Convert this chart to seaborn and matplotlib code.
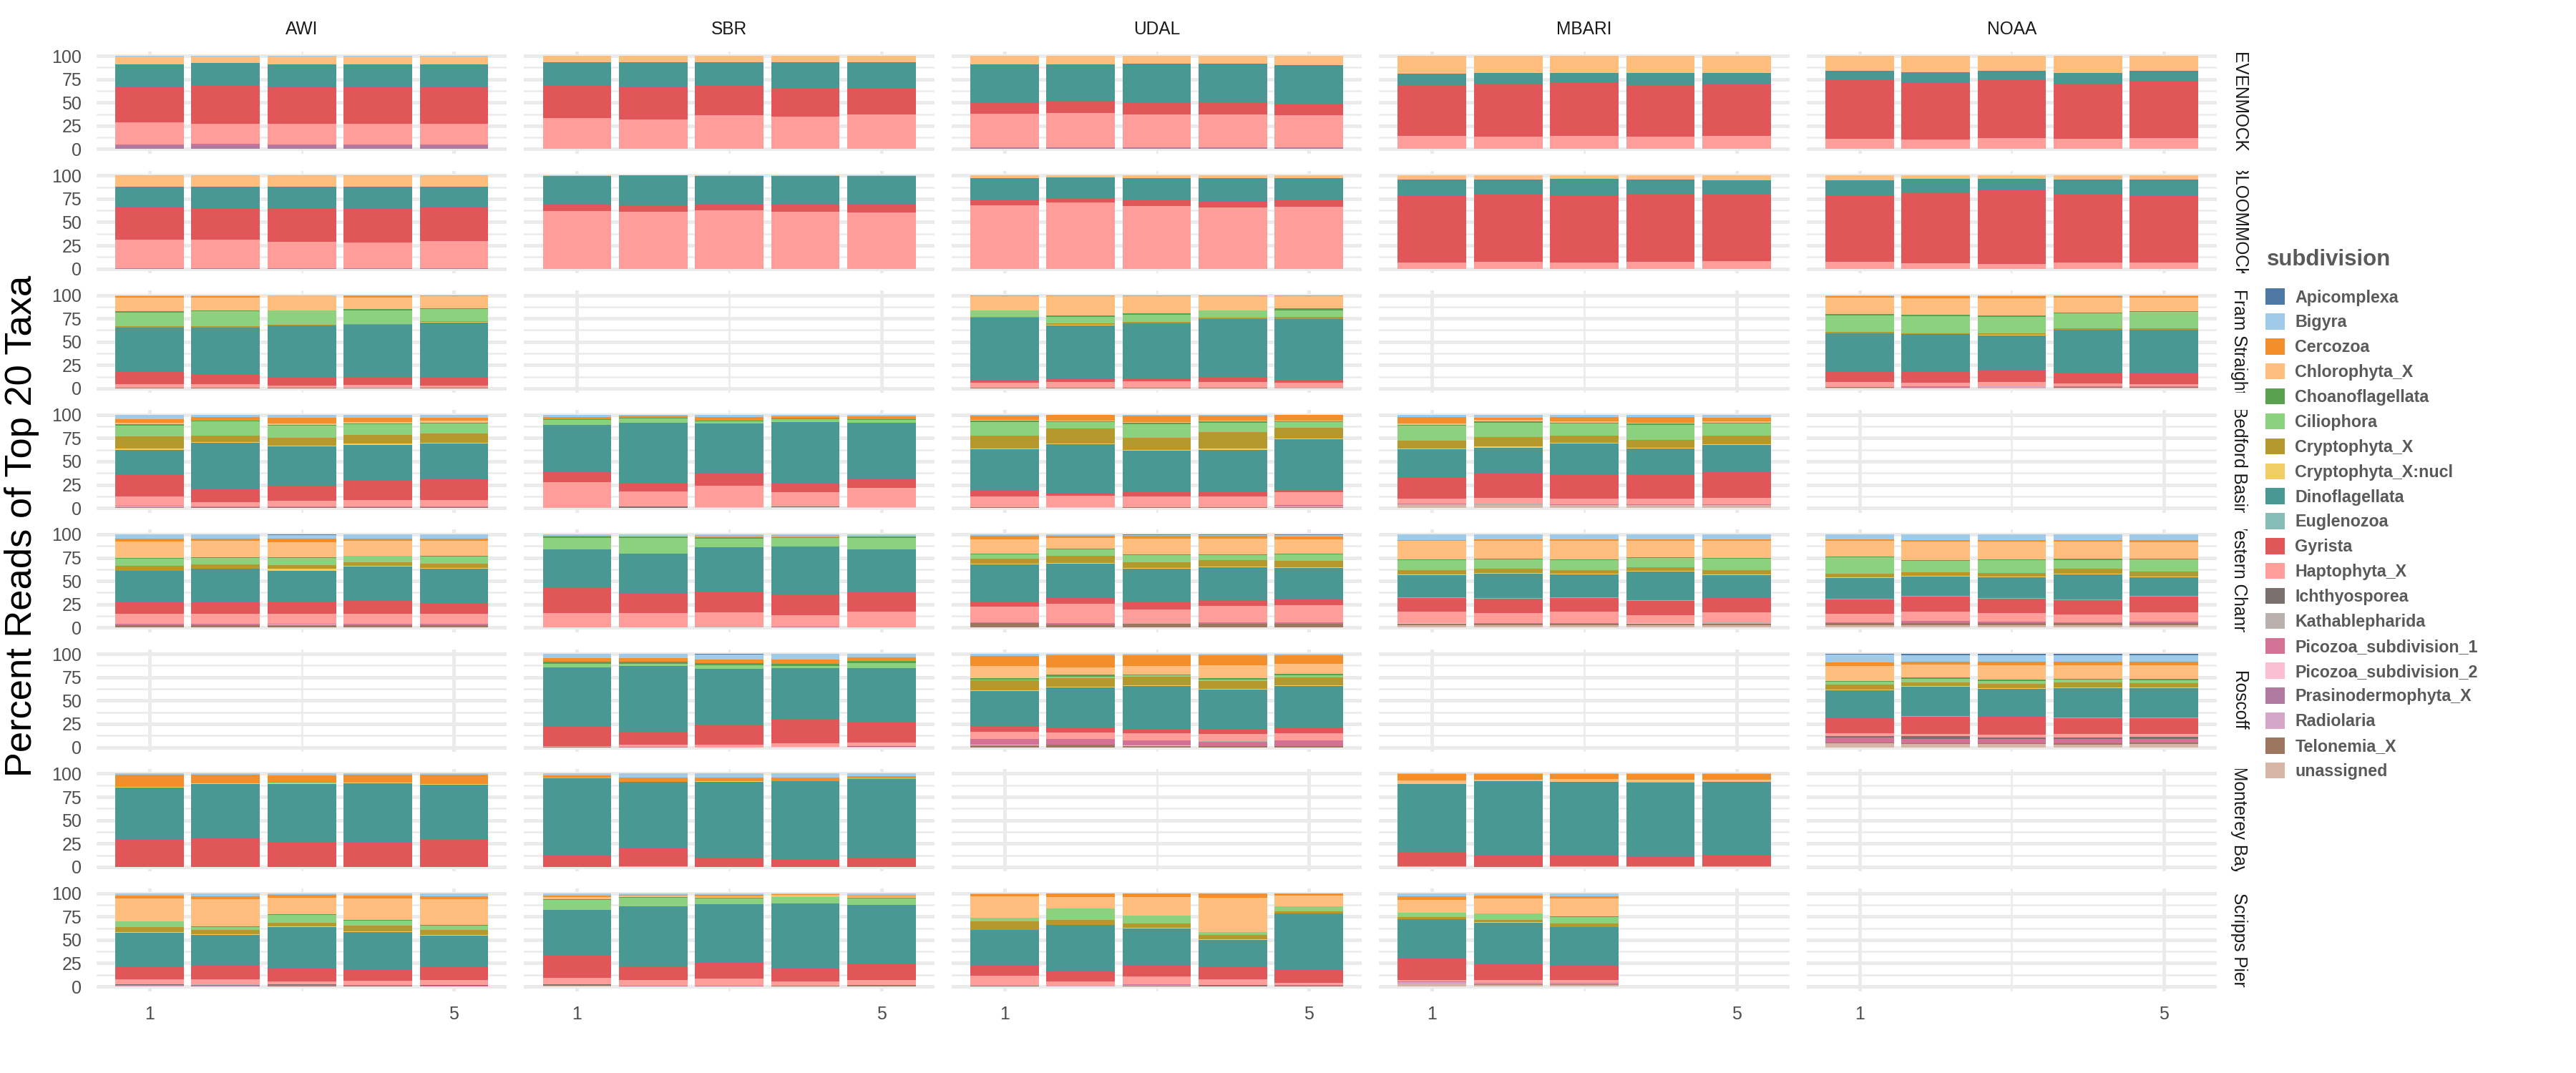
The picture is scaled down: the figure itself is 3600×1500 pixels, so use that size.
import numpy as np
import pandas as pd
import matplotlib.pyplot as plt
import seaborn as sns
from matplotlib.patches import Patch
from matplotlib.transforms import Bbox, TransformedBbox

sns.set_theme(style="white")
plt.rcParams['font.family'] = ['Liberation Sans', 'DejaVu Sans']

# --- taxa (legend order) and palette ---
taxa = ['Apicomplexa', 'Bigyra', 'Cercozoa', 'Chlorophyta_X', 'Choanoflagellata',
        'Ciliophora', 'Cryptophyta_X', 'Cryptophyta_X:nucl', 'Dinoflagellata',
        'Euglenozoa', 'Gyrista', 'Haptophyta_X', 'Ichthyosporea', 'Kathablepharida',
        'Picozoa_subdivision_1', 'Picozoa_subdivision_2', 'Prasinodermophyta_X',
        'Radiolaria', 'Telonemia_X', 'unassigned']
taxa_colors = ['#4E79A7', '#A0CBE8', '#F28E2B', '#FFBE7D', '#59A14F', '#8CD17D',
               '#B6992D', '#F1CE63', '#499894', '#86BCB6', '#E15759', '#FF9D9A',
               '#79706E', '#BAB0AC', '#D37295', '#FABFD2', '#B07AA1', '#D4A6C8',
               '#9D7660', '#D7B5A6']
short = dict(Api='Apicomplexa', Big='Bigyra', Cer='Cercozoa', Chl='Chlorophyta_X',
             Cho='Choanoflagellata', Cil='Ciliophora', Cry='Cryptophyta_X',
             Cnu='Cryptophyta_X:nucl', Din='Dinoflagellata', Eug='Euglenozoa',
             Gyr='Gyrista', Hap='Haptophyta_X', Ich='Ichthyosporea', Kat='Kathablepharida',
             Pi1='Picozoa_subdivision_1', Pi2='Picozoa_subdivision_2',
             Pra='Prasinodermophyta_X', Rad='Radiolaria', Tel='Telonemia_X', Una='unassigned')

sites = ['AWI', 'SBR', 'UDAL', 'MBARI', 'NOAA']
samples = ['EVENMOCK', 'BLOOMMOCK', 'Fram Straight', 'Bedford Basin',
           'Western Channel', 'Roscoff', 'Monterey Bay', 'Scripps Pier']

# --- percent reads per replicate ---
awi_even = dict(Pra=[4, 4.5, 4, 4, 4], Pi1=[1, 1, 1, 1, 1], Hap=[24, 22, 22.5, 22, 22.5],
                Gyr=[37.5, 40, 39, 39, 39], Din=[24.5, 24.5, 24.5, 24.5, 24.5],
                Chl=[8, 7, 8, 8.5, 8], Big=[1, 1, 1, 1, 1])
sbr_even = dict(Hap=[33.5, 32, 36.5, 35, 37.5], Gyr=[34, 34.5, 31, 30.5, 28],
                Din=[26, 27, 26, 28, 28], Chl=[6.5, 6.5, 6.5, 6.5, 6.5])
udal_even = dict(Pra=[1.5, 1.5, 1.5, 1.5, 1.5], Hap=[36.7, 37.5, 35.9, 35.9, 35.1],
                 Gyr=[11.4, 12.4, 12.2, 13, 12], Din=[41.2, 39.4, 42, 41.2, 41.4],
                 Chl=[9.2, 9.2, 8.4, 8.4, 10])
mbari_even = dict(Hap=[14.5, 13.7, 14.5, 13.7, 14.5], Gyr=[54.2, 56.3, 57, 55, 55],
                  Din=[12.2, 11.7, 10.2, 13, 12.2], Chl=[19.1, 18.3, 18.3, 18.3, 18.3])
noaa_even = dict(Hap=[10.9, 10.2, 11.7, 10.9, 11.7], Gyr=[63.1, 60.8, 62.3, 59.1, 61.6],
                 Din=[10, 11.4, 10, 11.7, 10.7], Chl=[16, 17.6, 16, 18.3, 16])

awi_bloom = dict(Pra=[0.5, 0.5, 0.5, 0.5, 0.5], Hap=[30.5, 30.5, 28.5, 27.5, 29],
                 Gyr=[34.5, 34, 36, 36.5, 36], Din=[22.2, 23, 23, 23.8, 22.2],
                 Chl=[11.8, 11.8, 11.8, 11.8, 11.8], Big=[0.5, 0.5, 0.5, 0.5, 0.5])
sbr_bloom = dict(Hap=[61.7, 61, 62.5, 61, 60.2], Gyr=[7.4, 6.9, 6.6, 7.6, 8.9],
                 Din=[30.1, 32.1, 30.1, 30.6, 30.1], Chl=[0.8, 0, 0.8, 0.8, 0.8])
udal_bloom = dict(Hap=[67.9, 70.9, 67.1, 65.6, 66.3], Gyr=[5.3, 4.6, 6.1, 6.3, 6.9],
                  Din=[23.7, 22.2, 23.7, 25, 23.7], Chl=[3.1, 2.3, 3.1, 3.1, 3.1])
mbari_bloom = dict(Hap=[6.9, 7.7, 6.9, 7.7, 8.4], Gyr=[71.1, 71.9, 71.7, 72.4, 71.2],
                   Din=[17.4, 15.8, 17.6, 15.3, 15], Cil=[0, 0, 0, 0, 0.5],
                   Chl=[4.6, 4.6, 3.8, 4.6, 4.9])
noaa_bloom = dict(Hap=[7.7, 6.1, 5.4, 6.9, 6.9], Gyr=[70.9, 75.5, 78.8, 72.7, 71.1],
                  Din=[16, 14.6, 12, 15.8, 17.4], Chl=[5.4, 3.8, 3.8, 4.6, 4.6])

awi_fram = dict(Tel=[0.8, 0.8, 0.8, 0.8, 0.8], Pi2=[0, 0, 0, 1, 0], Hap=[3.5, 3.5, 2, 1.8, 2],
                Gyr=[13.3, 11, 8.7, 8.6, 8.7], Din=[47.2, 49.5, 55.6, 55.7, 58.7],
                Cnu=[0, 0, 0, 0, 0.7], Cry=[1.5, 1.5, 0.8, 0.7, 0.8],
                Cil=[14.6, 16.1, 15.3, 15.3, 13], Cho=[1.5, 0.8, 0.7, 0.8, 0.8],
                Chl=[15.3, 14.5, 14.6, 13, 13], Cer=[1.5, 1.5, 0.7, 2.3, 1.5],
                Big=[0.8, 0.8, 0.8, 0, 0])
udal_fram = dict(Tel=[0.5, 0.5, 0.5, 0.5, 0.3], Kat=[0.5, 0, 0, 0, 0.5], Pi1=[0, 0.5, 0.5, 0.5, 0],
                 Hap=[4.9, 5.6, 6.4, 5.6, 5.1], Gyr=[2.5, 3.3, 3.1, 5.4, 3],
                 Din=[67.1, 57.2, 58.9, 62, 65.1], Cnu=[0, 0.8, 0, 0, 0],
                 Cry=[1.5, 1.5, 1.5, 1.5, 2.3], Cil=[6.2, 7.6, 8.4, 7.7, 7.6],
                 Cho=[0.7, 0.8, 0.8, 0.7, 1.6], Chl=[14.8, 21.4, 18.4, 14.6, 13.7],
                 Cer=[0.8, 0.8, 1.5, 1.5, 0.8], Big=[0.5, 0, 0, 0, 0])
noaa_fram = dict(Una=[0.8, 1, 0.5, 1, 0.7], Tel=[0.7, 0, 0, 0.8, 0.5], Rad=[0, 0, 1.5, 0, 0],
                 Pi1=[0, 1, 0, 0.5, 1], Hap=[5.1, 3.9, 4.6, 2.8, 2.1],
                 Gyr=[11, 11.7, 12.5, 11.5, 11.8], Din=[41.1, 41.1, 38, 46.7, 47.2],
                 Cnu=[0, 0, 0.8, 0, 0], Cry=[1.5, 1, 1.5, 1.5, 1.5],
                 Cil=[17.6, 18.1, 17.6, 16.1, 17.6], Cho=[1.5, 1.5, 1.6, 0.7, 0.8],
                 Chl=[17.6, 17.6, 18.3, 16.1, 14.5], Cer=[1.5, 2.3, 2.3, 1.5, 1.5],
                 Big=[1.5, 1.5, 1.5, 1.5, 1.5])

awi_bedford = dict(Tel=[0.5, 0.5, 0.5, 0.5, 0.5], Pi2=[0.8, 0, 0, 0, 0], Pi1=[1, 1, 1, 1, 1],
                   Hap=[9.7, 4.4, 5.9, 7.4, 6.7], Gyr=[23.2, 14, 16.8, 20.2, 22.9],
                   Din=[27.3, 50.3, 42.1, 38.5, 38.3], Cnu=[1.5, 0.7, 0.8, 1.5, 0.8],
                   Cry=[13, 6.9, 8.4, 10, 9.9], Cil=[11.5, 14.8, 13, 11.4, 10.7],
                   Cho=[1.5, 0.8, 0.8, 0.8, 0.8], Chl=[1.6, 0, 1.5, 1.5, 2.3],
                   Cer=[3.8, 4.3, 6.1, 4.6, 3], Big=[4.6, 2.3, 3.1, 3.1, 3.1])
sbr_bedford = dict(Ich=[0, 1.3, 0, 1, 0], Pi2=[0, 0, 0.8, 0.5, 0.8], Rad=[0.3, 0, 0, 0, 0],
                   Hap=[27.7, 16.8, 22.7, 15.8, 21.1], Gyr=[10.8, 9.2, 13.7, 9.2, 8.7],
                   Din=[50.5, 64.3, 53.6, 65.8, 61], Cil=[5.3, 4.6, 2.3, 3.1, 3],
                   Cho=[0.8, 0.7, 0.8, 0.8, 0.8], Cer=[2.3, 2.3, 3.8, 2.3, 3.1],
                   Big=[2.3, 0.8, 2.3, 1.5, 1.5])
udal_bedford = dict(Tel=[0.5, 0, 0.5, 0.5, 0.5], Pi2=[0, 0.5, 0, 0, 1.5],
                    Pi1=[0.7, 0.5, 0.7, 0.7, 1], Hap=[11, 11.8, 10.8, 10.8, 14.3],
                    Gyr=[6.2, 3, 4.6, 5.1, 2.3], Din=[44.9, 52.8, 45.1, 45.4, 54.4],
                    Cnu=[0.7, 0.8, 0.8, 1.5, 0.7], Cry=[13.8, 16.1, 13, 17.6, 11.5],
                    Cil=[14.5, 6.8, 14.5, 10, 6.1], Cho=[1.6, 0.8, 1.6, 1.5, 0.8],
                    Chl=[0.7, 0.8, 0.7, 0.8, 0.8], Cer=[4.6, 6.1, 6.9, 5.3, 6.1],
                    Big=[0.8, 0, 0.8, 0.8, 0])
mbari_bedford = dict(Una=[3.8, 3, 3, 3, 3], Kat=[0, 1.5, 0, 0, 0], Pi1=[0.7, 0, 1, 1, 1],
                     Hap=[5.2, 6, 5.7, 5.7, 6.5], Gyr=[23, 26.7, 25.5, 26, 27.8],
                     Eug=[0.7, 0, 0, 0, 0], Din=[29.9, 27.6, 34.2, 28.3, 29.6],
                     Cnu=[0.7, 1.5, 0.8, 0.8, 0.7], Cry=[8.4, 10, 7.6, 8.4, 9.2],
                     Cil=[16.1, 15.3, 13, 16.1, 13], Cho=[0.8, 1.5, 0.8, 1.5, 0.8],
                     Chl=[1.5, 1.5, 1.5, 0.8, 1.5], Cer=[6.9, 2.3, 4.6, 6.1, 3.8],
                     Big=[2.3, 3.1, 2.3, 2.3, 3.1])

awi_western = dict(Tel=[2.3, 2.3, 2.3, 2.3, 2.3], Pi2=[0, 0, 0.8, 0, 0],
                   Pi1=[1.5, 1.5, 0.7, 1.5, 1.5], Hap=[10.7, 10.7, 10.7, 10.7, 10.7],
                   Gyr=[12.3, 12.3, 13.1, 13.8, 11.5], Din=[33.7, 36, 33.6, 37.5, 37.5],
                   Cnu=[0.7, 0.7, 1.6, 0.8, 0.8], Cry=[5.4, 4.6, 4.5, 3.8, 4.6],
                   Cil=[7.6, 6.9, 7.7, 6.9, 7.6], Cho=[0.8, 0.3, 0.8, 0, 0.8],
                   Chl=[17.6, 18.1, 16, 16.1, 16.1], Cer=[2.8, 2.3, 3.9, 2.3, 2.3],
                   Big=[4.6, 4.3, 3.5, 4.3, 4.3], Api=[0, 0, 0.8, 0, 0])
sbr_western = dict(Una=[0, 0, 0, 0, 0.5], Rad=[0.5, 0.5, 0, 0, 0], Pi1=[0, 0, 0, 0.8, 0],
                   Kat=[0, 0, 1, 0, 0], Hap=[15.5, 15.5, 15, 12.2, 16.3],
                   Gyr=[27.6, 20.7, 23, 22.9, 20.7], Din=[40.6, 42.9, 47.5, 51.3, 46.7],
                   Cil=[12.2, 16.8, 9.2, 9.2, 12.2], Cho=[1.6, 1.6, 1.5, 0.8, 1.6],
                   Chl=[0.5, 0.5, 0.8, 0.8, 0], Cer=[0.7, 0.5, 0.3, 0.3, 0],
                   Big=[1.3, 1.3, 1.7, 1.7, 2])
udal_western = dict(Tel=[4.6, 3, 3.8, 3.8, 3.8], Pi1=[0.8, 1.5, 0.5, 1.5, 1.5],
                    Kat=[0, 0, 0.5, 0, 0], Hap=[17.3, 21.3, 14.8, 18.2, 18.9],
                    Gyr=[5.4, 6.1, 8.5, 6.1, 6.2], Din=[39.8, 36.7, 35.2, 35.2, 33.6],
                    Cnu=[0.7, 0.8, 0.7, 0.8, 0.8], Cry=[5.4, 7.6, 6.2, 6.8, 6.9],
                    Cil=[4.6, 6.9, 7.6, 5.4, 6.9], Cho=[0.7, 0.8, 0.8, 0.8, 0.7],
                    Chl=[15.3, 11.5, 16.8, 16.8, 15.3], Cer=[3.9, 2.3, 3.1, 3.1, 3.1],
                    Big=[1.5, 1.5, 0.7, 0.7, 1.5], Api=[0, 0, 0.8, 0.8, 0.8])
mbari_western = dict(Una=[2.3, 2.3, 2.3, 2.3, 2.3], Tel=[1.5, 1.5, 1.5, 1.5, 1.5],
                     Rad=[0, 0, 0.5, 0, 0.8], Pi2=[0.8, 0, 0, 0.8, 0], Pi1=[0.5, 0.8, 0.8, 0, 0],
                     Kat=[0, 0, 0, 0, 0.8], Hap=[12.2, 11.2, 12.2, 8.9, 11.2],
                     Gyr=[14.6, 15.3, 14.6, 15.3, 15.3], Eug=[0.8, 0.8, 0.5, 0.8, 0],
                     Din=[23.7, 26, 24.7, 30.6, 24.5], Cnu=[0.7, 0.8, 0.8, 0.7, 0.7],
                     Cry=[4.6, 4.6, 3.8, 3.9, 4.6], Cil=[10.7, 9.9, 10.7, 9.9, 12.3],
                     Cho=[0.8, 0.8, 0.8, 0.8, 0.7], Chl=[19.9, 19.1, 19.9, 17.6, 18.4],
                     Cer=[0.8, 1.5, 1.5, 1.5, 1.5], Big=[6.1, 5.4, 5.4, 5.4, 5.4])
noaa_western = dict(Una=[2.3, 2.3, 2.3, 2.3, 2.3], Tel=[2.3, 2.3, 2.3, 2.3, 2.3],
                    Pi1=[0.8, 2.3, 1.5, 0.8, 1.5], Hap=[9.6, 10.4, 9.7, 8.9, 10.5],
                    Gyr=[15.4, 16.1, 15.3, 15.3, 16.8], Eug=[0.7, 0.8, 0.8, 0.8, 0.8],
                    Din=[22.2, 20.6, 22.2, 26.7, 19.9], Cnu=[0.8, 0.8, 0.7, 0.8, 0.7],
                    Cry=[3.8, 3.8, 3.9, 5.4, 5.4], Cil=[17.6, 12.3, 13.7, 9.1, 13],
                    Cho=[0.8, 0.7, 0.8, 1.6, 0.8], Chl=[16.8, 19.9, 19.1, 18.3, 17.6],
                    Cer=[1.5, 1.6, 1.6, 1.6, 2.3], Big=[5.4, 6.1, 6.1, 6.1, 6.1])

sbr_roscoff = dict(Ich=[0, 0, 0, 0, 1], Tel=[0.5, 0, 0, 0, 0], Pi2=[0, 0, 0, 0.5, 0.5],
                   Pi1=[0, 0.5, 0, 0, 0], Hap=[0.5, 2.6, 3.1, 4.1, 3.9],
                   Gyr=[20.9, 13.7, 21.4, 26, 22.2], Din=[63.6, 70.2, 59.4, 54.1, 57.1],
                   Cil=[3.8, 2.3, 3.9, 2.3, 5.3], Cho=[2.3, 2.3, 2.2, 2.3, 2.3],
                   Cer=[3.8, 3.8, 3.9, 4.6, 3.9], Big=[4.6, 4.6, 5.3, 6.1, 3.8],
                   Api=[0, 0, 0.8, 0, 0])
udal_roscoff = dict(Tel=[2.3, 3.1, 1.5, 1.5, 1.5], Pi2=[0.8, 0, 0.8, 0, 0],
                    Pi1=[6.1, 6.1, 5.4, 4.6, 6.1], Kat=[0, 0, 0, 0.8, 0],
                    Hap=[7.7, 6.9, 7.4, 7.4, 7.4], Gyr=[6.1, 5.4, 4.8, 5.6, 6.4],
                    Din=[37.2, 42.6, 45.7, 41.8, 44.1], Cnu=[0.8, 0.8, 0.8, 0.8, 0.8],
                    Cry=[10.7, 9.2, 9.2, 8.4, 8.4], Cil=[0.8, 1.5, 1.5, 1.5, 2.3],
                    Cho=[1.5, 2.3, 0.8, 1.5, 1.5], Chl=[13, 7.7, 9.2, 13.8, 10.7],
                    Cer=[10.7, 13, 11.5, 10.7, 9.2], Big=[2.3, 1.5, 1.5, 1.5, 1.5])
noaa_roscoff = dict(Una=[4.6, 3.8, 3.8, 3.1, 3.8], Tel=[0.8, 0.8, 0.8, 1.5, 1.5],
                    Pi1=[5.4, 4.6, 4.6, 4.6, 3.8], Ich=[1.5, 3.1, 1.5, 1.5, 2.3],
                    Hap=[3.1, 2.3, 2.8, 3.6, 2.8], Gyr=[16.1, 18.4, 19.4, 17.1, 17.1],
                    Eug=[0, 0.8, 0, 0.8, 0.8], Din=[29.8, 31.1, 29.8, 31.4, 31.1],
                    Cnu=[0.8, 0.8, 0.8, 0.8, 0.8], Cry=[5.1, 3.8, 4.3, 5.1, 4.6],
                    Cil=[3.1, 3.8, 3.1, 3.1, 3.1], Cho=[0.8, 1.5, 1.5, 0.8, 1.5],
                    Chl=[16.1, 13.8, 15.3, 14.5, 14.5], Cer=[3.8, 3.1, 3.8, 3.8, 3.8],
                    Big=[8.4, 6.9, 6.9, 6.9, 6.9], Api=[0.8, 1.5, 1.5, 1.5, 1.5])

awi_monterey = dict(Gyr=[28.8, 30.4, 26.5, 25.8, 29.8], Din=[55.9, 58.1, 62, 63.5, 58],
                    Cnu=[0.8, 0.8, 0.8, 0.7, 0.7], Cil=[0, 0, 0.7, 0, 0],
                    Cer=[13, 9.2, 7.7, 8.5, 10], Big=[1.5, 1.5, 2.3, 1.5, 1.5])
sbr_monterey = dict(Hap=[0, 0.8, 0, 0, 0], Gyr=[12, 19.1, 9.9, 8.4, 9.9],
                    Din=[82.6, 70.9, 80.9, 83.2, 84], Cnu=[0, 0, 0.8, 0, 0],
                    Cil=[0.8, 0, 0, 0, 0.7], Cer=[2.3, 4.6, 3.8, 3.8, 2.3],
                    Big=[2.3, 4.6, 4.6, 4.6, 3.1])
mbari_monterey = dict(Una=[0.8, 0, 0.8, 0.8, 0.8], Tel=[0, 0.5, 0, 0, 0],
                      Gyr=[15.3, 11.5, 11.2, 9.7, 12.2], Din=[72.4, 79.6, 78.8, 79.5, 77.8],
                      Cil=[0, 0, 0, 0.7, 0], Chl=[3.8, 1.5, 3.1, 2.3, 2.3],
                      Cer=[6.9, 6.1, 5.3, 6.1, 6.1], Big=[0.8, 0.8, 0.8, 0.8, 0.8])

awi_scripps = dict(Tel=[0, 0, 0.7, 0.7, 0], Rad=[0.8, 0, 0, 0, 0], Pra=[0, 1.5, 0, 0, 0],
                   Pi1=[0.7, 0, 0.7, 0.8, 0.8], Kat=[0, 0.8, 0, 0, 0], Ich=[1, 0, 0.7, 0, 0.7],
                   Hap=[5.4, 5.6, 3.5, 4.9, 5.6], Gyr=[12.5, 14, 13.8, 11.5, 13.8],
                   Din=[37.3, 33.5, 44.4, 40.5, 33.7], Cnu=[0.7, 0.7, 0.7, 0.8, 0.8],
                   Cry=[5.4, 4.6, 3.9, 6.1, 5.3], Cil=[6.1, 3.1, 8.4, 5.4, 4.6],
                   Cho=[0, 0.7, 0.8, 0.3, 0.8], Chl=[24.5, 29.1, 17.6, 23.4, 27.5],
                   Cer=[3.1, 3.1, 3, 3, 3.1], Big=[2.6, 3.3, 1.8, 2.6, 3.3])
sbr_scripps = dict(Una=[0.7, 0, 0, 0, 0], Tel=[1, 0, 0, 0.8, 1.5], Pi1=[0, 0.8, 0.8, 0, 0],
                   Ich=[0.3, 0, 0, 0, 0], Hap=[7.4, 6.3, 7.9, 4.8, 5.6],
                   Gyr=[23.3, 14.8, 16.8, 13.8, 17.6], Din=[49.4, 64.1, 62.8, 69.6, 62.8],
                   Cil=[10.7, 9.2, 6.1, 6.9, 6.9], Cho=[0.8, 0.8, 0.8, 0.3, 0.8],
                   Chl=[2.3, 1.5, 1.5, 2.3, 1.5], Cer=[1.5, 0.8, 1.5, 0.8, 0.8],
                   Big=[2.6, 1.8, 1.8, 0.5, 2.6], Api=[0, 0, 0, 0.5, 0])
udal_scripps = dict(Tel=[0.7, 0, 0.7, 0.7, 0.7], Rad=[0, 0.8, 1, 0, 0],
                    Pi1=[0, 0, 0.7, 0.3, 0.7], Kat=[0.8, 0, 0, 0, 0], Ich=[0, 0, 0, 0.5, 0],
                    Hap=[10.2, 4.8, 8.6, 6.4, 2.7], Gyr=[10.2, 10.2, 11.4, 12.5, 13.8],
                    Din=[38.8, 50.5, 39.8, 29.6, 60.4], Cnu=[0, 0, 0.8, 0.8, 0],
                    Cry=[9.2, 5.1, 4.6, 4.6, 2.3], Cil=[3.8, 12.3, 8.4, 3, 5.4],
                    Cho=[0, 0.3, 0, 0, 0], Chl=[23, 12.2, 19.9, 36.8, 11.4],
                    Cer=[2.5, 4.1, 4.1, 4.8, 2.6], Big=[0.8, 0, 0, 0, 0])
mbari_scripps = dict(Una=[2.3, 1.8, 1.5], Tel=[0, 0.7, 0.5], Rad=[2.3, 0.5, 0.8],
                     Pi1=[0.8, 0.7, 0.7], Hap=[1.7, 3.4, 3.6], Gyr=[23, 16.9, 14.8],
                     Din=[42.1, 44.4, 41.9], Cnu=[0, 0.7, 0], Cry=[2.3, 2.3, 3.8],
                     Cil=[4.6, 6.9, 6.9], Cho=[0, 0, 0.8], Chl=[13.8, 16.1, 19.1],
                     Cer=[3.8, 3, 2.3], Big=[3.3, 2.6, 2.8], Api=[0, 0, 0.5])

facets = {
    ('AWI', 'EVENMOCK'): awi_even, ('SBR', 'EVENMOCK'): sbr_even,
    ('UDAL', 'EVENMOCK'): udal_even, ('MBARI', 'EVENMOCK'): mbari_even,
    ('NOAA', 'EVENMOCK'): noaa_even,
    ('AWI', 'BLOOMMOCK'): awi_bloom, ('SBR', 'BLOOMMOCK'): sbr_bloom,
    ('UDAL', 'BLOOMMOCK'): udal_bloom, ('MBARI', 'BLOOMMOCK'): mbari_bloom,
    ('NOAA', 'BLOOMMOCK'): noaa_bloom,
    ('AWI', 'Fram Straight'): awi_fram, ('UDAL', 'Fram Straight'): udal_fram,
    ('NOAA', 'Fram Straight'): noaa_fram,
    ('AWI', 'Bedford Basin'): awi_bedford, ('SBR', 'Bedford Basin'): sbr_bedford,
    ('UDAL', 'Bedford Basin'): udal_bedford, ('MBARI', 'Bedford Basin'): mbari_bedford,
    ('AWI', 'Western Channel'): awi_western, ('SBR', 'Western Channel'): sbr_western,
    ('UDAL', 'Western Channel'): udal_western, ('MBARI', 'Western Channel'): mbari_western,
    ('NOAA', 'Western Channel'): noaa_western,
    ('SBR', 'Roscoff'): sbr_roscoff, ('UDAL', 'Roscoff'): udal_roscoff,
    ('NOAA', 'Roscoff'): noaa_roscoff,
    ('AWI', 'Monterey Bay'): awi_monterey, ('SBR', 'Monterey Bay'): sbr_monterey,
    ('MBARI', 'Monterey Bay'): mbari_monterey,
    ('AWI', 'Scripps Pier'): awi_scripps, ('SBR', 'Scripps Pier'): sbr_scripps,
    ('UDAL', 'Scripps Pier'): udal_scripps, ('MBARI', 'Scripps Pier'): mbari_scripps,
}

# long table, percent of the top-20 reads per replicate
rows = []
for (site, sample), comp in facets.items():
    n = len(next(iter(comp.values())))
    totals = [sum(v[i] for v in comp.values()) for i in range(n)]
    for key, vals in comp.items():
        for i, v in enumerate(vals):
            rows.append((site, sample, i + 1, short[key], 100 * v / totals[i]))
df = pd.DataFrame(rows, columns=['site', 'sample', 'rep', 'subdivision', 'pct'])

palette = dict(zip(taxa, taxa_colors))
grid_col = '#EBEBEB'

fig, axes = plt.subplots(len(samples), len(sites), figsize=(12, 5), dpi=300,
                         sharex=True, sharey=True)
fig.subplots_adjust(left=0.0375, right=0.8606, top=0.9523, bottom=0.0763,
                    wspace=0.042, hspace=0.166)

for r, sample in enumerate(samples):
    for c, site in enumerate(sites):
        ax = axes[r, c]
        sub = df[(df['site'] == site) & (df['sample'] == sample)]
        if len(sub):
            sns.histplot(data=sub, x='rep', weights='pct', hue='subdivision',
                         hue_order=taxa, palette=palette, multiple='stack',
                         discrete=True, shrink=0.9, alpha=1, linewidth=0,
                         legend=False, ax=ax)
        ax.set_xlim(0.305, 5.695)
        ax.set_ylim(-5, 105)
        ax.set_xticks([1, 5])
        ax.set_xticks([3], minor=True)
        ax.set_yticks([0, 25, 50, 75, 100])
        ax.set_yticks([12.5, 37.5, 62.5, 87.5], minor=True)
        ax.set_axisbelow(True)
        ax.grid(which='major', color=grid_col, linewidth=1.2)
        ax.grid(which='minor', color=grid_col, linewidth=0.6)
        ax.tick_params(which='both', length=0, labelsize=6, labelcolor='#4D4D4D', pad=5)
        for s in ax.spines.values():
            s.set_visible(False)
        ax.set_xlabel('')
        ax.set_ylabel('')
        if r == 0:
            ax.text(0.5, 1.21, site, transform=ax.transAxes, ha='center', va='center',
                    fontsize=5.9, color='#1A1A1A')
        if c == len(sites) - 1:
            t = ax.text(1.054, 0.5, sample, transform=ax.transAxes, ha='center',
                        va='center', rotation=-90, fontsize=5.9, color='#1A1A1A')
            t.set_clip_on(True)
            t.set_clip_box(TransformedBbox(Bbox([[1.0, 0.0], [1.2, 1.0]]), ax.transAxes))

fig.text(0.0085, 0.51, 'Percent Reads of Top 20 Taxa', rotation=90,
         ha='center', va='center', fontsize=12.6, color='black')

# legend: title placed separately to get the ggplot spacing
fig.text(0.88, 0.758, 'subdivision', ha='left', va='center', fontsize=7.5,
         fontweight='bold', color='#5A5A5A')
handles = [Patch(facecolor=palette[t], edgecolor='none', label=t) for t in taxa]
leg = fig.legend(handles=handles, loc='upper left', bbox_to_anchor=(0.8795, 0.731),
                 frameon=False, prop=dict(weight='bold', size=5.6),
                 labelcolor='#5A5A5A', handlelength=1.16, handleheight=1.1,
                 labelspacing=0.46, handletextpad=0.6, borderaxespad=0, borderpad=0)

fig.savefig('out.png', dpi=300)
